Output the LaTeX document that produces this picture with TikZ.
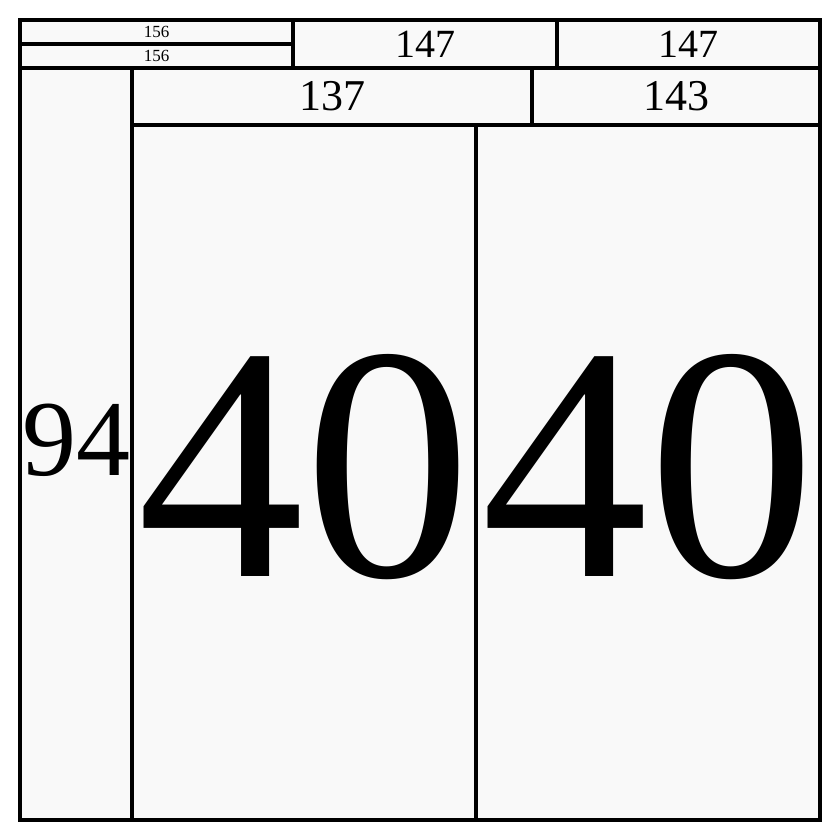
\documentclass[tikz,border=0pt]{standalone}
\usepackage{fontspec}
\setmainfont{Liberation Serif}
\definecolor{cellfill}{HTML}{F9F9F9}
\tikzset{
  cell/.style={draw=black, fill=cellfill, line width=3.5pt, inner sep=0pt, rectangle},
  lbl/.style={inner sep=0pt, text=black},
}
\newcommand{\fs}[1]{\fontsize{#1}{#1}\selectfont}
\begin{document}
\begin{tikzpicture}[x=1pt,y=-1pt]
\useasboundingbox (0,0) rectangle (840,840);
\node[cell, minimum width=273pt, minimum height=24pt] (a1) at (156.5,32) {};
\node[cell, minimum width=273pt, minimum height=24pt] (a2) at (156.5,56) {};
\node[cell, minimum width=264pt, minimum height=48pt] (b) at (425,44) {};
\node[cell, minimum width=263pt, minimum height=48pt] (c) at (688.5,44) {};
\node[cell, minimum width=112pt, minimum height=752pt] (d) at (76,444) {};
\node[cell, minimum width=400pt, minimum height=57pt] (e) at (332,96.5) {};
\node[cell, minimum width=288pt, minimum height=57pt] (f) at (676,96.5) {};
\node[cell, minimum width=344pt, minimum height=695pt] (g) at (304,472.5) {};
\node[cell, minimum width=344pt, minimum height=695pt] (h) at (648,472.5) {};
\node[lbl] (ta1) at (a1.center) {\fs{17}156};
\node[lbl] (ta2) at (a2.center) {\fs{17}156};
\node[lbl] (tb) at (b.center) {\fs{40}147};
\node[lbl] (tc) at (c.center) {\fs{40}147};
\node[lbl] (td) at ([yshift=4pt]d.center) {\fs{108}94};
\node[lbl] (te) at (e.center) {\fs{44}137};
\node[lbl] (tf) at (f.center) {\fs{44}143};
\node[lbl] (tg) at ([yshift=5pt]g.center) {\fs{334}40};
\node[lbl] (th) at ([yshift=5pt]h.center) {\fs{334}40};
\end{tikzpicture}
\end{document}
